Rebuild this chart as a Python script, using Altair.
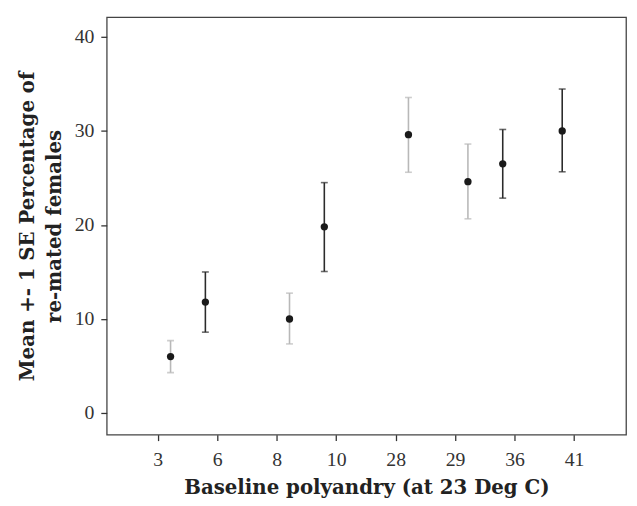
import altair as alt
import pandas as pd

baseline = ["3", "6", "8", "10", "28", "29", "36", "41"]
group = ["grey", "black", "grey", "black", "grey", "grey", "black", "black"]
mean = [6.0, 11.8, 10.0, 19.8, 29.6, 24.6, 26.5, 30.0]
lower = [4.3, 8.6, 7.35, 15.05, 25.6, 20.65, 22.85, 25.65]
upper = [7.7, 15.0, 12.75, 24.5, 33.55, 28.6, 30.15, 34.45]

df = pd.DataFrame({"baseline": baseline, "group": group, "mean": mean,
                   "lower": lower, "upper": upper})

xenc = alt.X("baseline:O", sort=baseline,
             title="Baseline polyandry (at 23 Deg C)",
             scale=alt.Scale(type="band", paddingInner=0, paddingOuter=0.366),
             axis=alt.Axis(labelAngle=0, domain=False, grid=False, tickSize=6,
                           tickColor="#333", tickWidth=1.3, labelPadding=9,
                           labelFont="Liberation Serif", labelFontSize=20,
                           labelColor="#333", titleFont="DejaVu Serif",
                           titleFontSize=20, titleFontWeight="bold",
                           titleColor="#222", titlePadding=9))
xoff = alt.XOffset("group:N", scale=alt.Scale(type="point", domain=["black", "grey"], padding=0.706))
yscale = alt.Scale(domain=[-2.3, 42.1], nice=False, zero=False)
yaxis = alt.Axis(values=[0, 10, 20, 30, 40], domain=False, grid=False, tickSize=6,
                 tickColor="#333", tickWidth=1.3, labelPadding=7,
                 labelFont="Liberation Serif", labelFontSize=20, labelColor="#333",
                 titleFont="DejaVu Serif", titleFontSize=20, titleFontWeight="bold",
                 titleColor="#222", titlePadding=10, titleLineHeight=27)
color = alt.Color("group:N", scale=alt.Scale(domain=["black", "grey"], range=["#2b2b2b", "#b8b8b8"]), legend=None)

base = alt.Chart(df)
rule = base.mark_rule(strokeWidth=1.6).encode(
    x=xenc, xOffset=xoff,
    y=alt.Y("lower:Q", scale=yscale, axis=yaxis,
            title=["Mean +- 1 SE Percentage of", "re-mated females"]),
    y2="upper:Q", color=color)
cap_lo = base.mark_tick(size=7, thickness=1.6).encode(x=xenc, xOffset=xoff, y=alt.Y("lower:Q"), color=color)
cap_hi = base.mark_tick(size=7, thickness=1.6).encode(x=xenc, xOffset=xoff, y=alt.Y("upper:Q"), color=color)
pts = base.mark_point(filled=True, size=55, opacity=1, color="#1a1a1a").encode(
    x=xenc, xOffset=xoff, y=alt.Y("mean:Q"))

chart = alt.layer(rule, cap_lo, cap_hi, pts).properties(
    width=526, height=423,
    background="white",
    autosize=alt.AutoSizeParams(type="none"),
    padding={"left": 100, "top": 6, "right": 3, "bottom": 66},
).configure_view(stroke="#444", strokeWidth=1.3)

chart.save("out.html", embed_options={"renderer": "svg", "actions": False})
